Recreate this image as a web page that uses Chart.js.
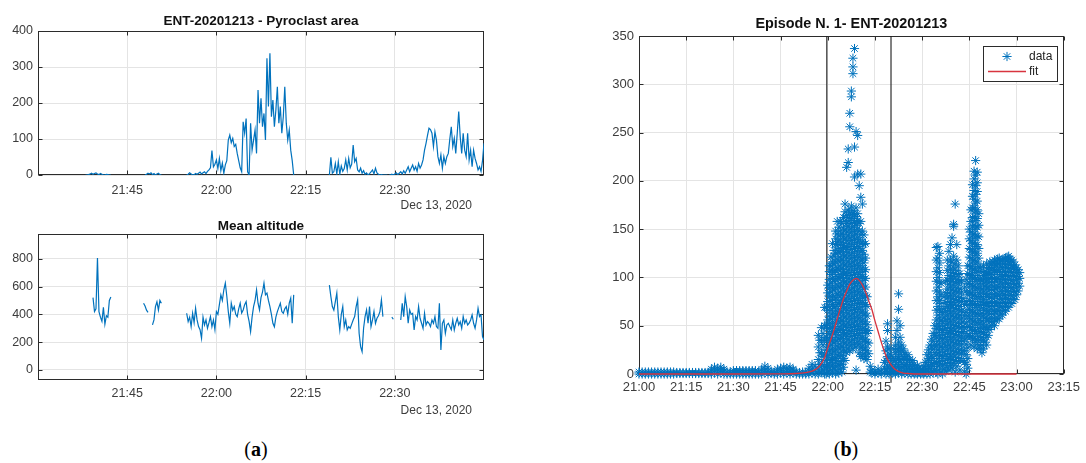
<!DOCTYPE html>
<html>
<head>
<meta charset="utf-8">
<script src="https://cdn.jsdelivr.net/npm/chart.js@4.4.1/dist/chart.umd.min.js"></script>
<style>
  html, body { margin: 0; padding: 0; background: #fff; }
  body { width: 1086px; height: 463px; position: relative; overflow: hidden; }
  .panel { position: absolute; }
  .panel canvas { display: block; }
  .cap { position: absolute; font-family: "Liberation Serif", "Times New Roman", serif; font-size: 20px; line-height: 24px; color: #000; transform: translateX(-50%); white-space: nowrap; }
  .cap b { font-weight: bold; }
</style>
</head>
<body>
<div class="panel" style="left:0;top:0"><canvas id="areaChart" width="500" height="212"></canvas></div>
<div class="panel" style="left:0;top:212px"><canvas id="altitudeChart" width="500" height="213"></canvas></div>
<div class="panel" style="left:580px;top:0"><canvas id="episodeChart" width="506" height="420"></canvas></div>
<div class="cap" style="left:256px;top:437px">(<b>a</b>)</div>
<div class="cap" style="left:846px;top:437px">(<b>b</b>)</div>

<script>
// ---------------------------------------------------------------
// (a) ENT-20201213 monitoring, 15-second samples.
// Each run starts at the given minute after 21:30.
// ---------------------------------------------------------------
const SAMPLE_STEP = 0.25;

// Pyroclast area
const areaRunStarts = [8, 18, 25, 49, 59];
const areaRun1 = [0, 0, 1, 3, 5, 2, 4, 6, 3, 1, 4, 2, 0, 0, 2, 1, 0, 0];
const areaRun2 = [0, 2, 5, 3, 6, 1, 4, 0, 3, 5, 1, 0];
const areaRun3 = [
  0, 2, 6, 3, 0, 1, 4, 2,
  5, 8, 3, 6, 9, 4, 10, 14,
  20, 68, 23, 30, 42, 18, 46, 12,
  33, 5, 28, 40, 97, 111, 90, 102,
  79, 85, 60, 40, 20, 9, 148, 116,
  157, 9, 0, 144, 69, 97, 125, 60,
  236, 144, 213, 134, 171, 97, 324, 190,
  338, 162, 208, 134, 180, 245, 144, 190,
  116, 162, 245, 144, 97, 125, 69, 40,
  0
];
const areaRun4 = [
  0, 49, 5, 9, 32, 3, 37, 2,
  25, 10, 18, 42, 14, 46, 20, 30,
  83, 37, 46, 14, 9, 19, 5, 12,
  2, 6, 0, 4, 9, 14, 3, 19,
  6, 2, 0, 1, 0, 0, 0, 0
];
const areaRun5 = [
  0, 0, 2, 0, 3, 6, 1, 5,
  9, 3, 12, 5, 14, 23, 9, 19,
  28, 14, 23, 10, 32, 19, 28, 42,
  69, 88, 110, 130, 126, 116, 79, 120,
  97, 51, 32, 56, 19, 51, 32, 51,
  60, 100, 134, 79, 102, 60, 116, 176,
  106, 60, 116, 69, 51, 116, 42, 69,
  23, 69, 46, 32, 14, 23, 10, 40,
  88
];

// Mean altitude
const altitudeRunStarts = [9.25, 17.75, 25, 49, 59.5, 61];
const altitudeRun1 = [520, 420, 440, 805, 420, 380, 350, 450, 330, 390, 380, 500, 525];
const altitudeRun2 = [480, 460, 430, 415, null, null, 324, 360, 456, 490, 430, 500, 480];
const altitudeRun3 = [
  408, 348, 380, 312, 408, 340, 444, 360,
  312, 290, 228, 380, 324, 360, 300, 340,
  384, 312, 360, 290, 420, 400, 470, 540,
  500, 577, 625, 530, 420, 336, 480, 430,
  456, 400, 384, 440, 480, 410, 432, 470,
  492, 400, 350, 276, 380, 456, 500, 577,
  480, 432, 520, 560, 625, 540, 553, 500,
  456, 400, 336, 310, 380, 420, 450, 480,
  420, 408, 440, 456, 400, 480, 516, 336,
  540
];
const altitudeRun4 = [
  610, 528, 456, 430, 492, 553, 384, 288,
  400, 456, 312, 360, 288, 312, 300, 330,
  360, 384, 456, 504, 264, 168, 132, 300,
  384, 432, 336, 456, 312, 360, 420, 336,
  372, 390, 420, 504, 384
];
const altitudeRun5 = [380, 365];
const altitudeRun6 = [
  360, 480, 384, 528, 456, 336, 432, 400,
  408, 288, 384, 360, 456, 372, 336, 300,
  408, 324, 348, 336, 312, 360, 336, 384,
  312, 300, 480, 144, 336, 360, 264, 324,
  336, 312, 290, 360, 288, 336, 372, 324,
  348, 300, 384, 336, 360, 324, 336, 360,
  396, 336, 300, 360, 444, 384, 396, 240,
  216
];

const panelATicks = [15, 30, 45, 60];            // 21:45 ... 22:30
const areaTicks = [0, 100, 200, 300, 400];
const altitudeTicks = [0, 200, 400, 600, 800];

// ---------------------------------------------------------------
// (b) Episode N. 1: detected area per frame, minutes after 21:00
// ---------------------------------------------------------------
const quietMinutes = [
  0, 1, 2, 3, 4, 5, 6, 7, 8, 9, 10, 11, 12, 13, 14, 15, 16, 17, 18, 19,
  20, 21, 22, 23, 24, 25, 26, 27, 28, 29, 30, 31, 32, 33, 34, 35, 36, 37, 38, 39,
  40, 41, 42, 43, 44, 45, 46, 47, 48, 49, 50, 51, 52, 53, 54, 55, 56
];
const quietAreas = [
  [0, 2], [0, 2], [0, 2], [0, 2], [0, 2], [0, 2], [0, 2], [0, 2], [0, 2], [0, 2], [0, 2], [0, 2],
  [0.5, 1.5], [0.5, 1.5], [0.5, 1.5], [0.5, 1.5], [0.5, 1.5], [0.5, 1.5], [0.5, 1.5], [0.5, 1.5],
  [0.5, 1.5], [0.5, 1.5], [0.5, 1.5],
  [0, 3, 5], [1, 4, 7], [0, 3, 6], [1, 4, 7], [0, 3, 5],
  [0, 2], [0, 2],
  [0, 2, 3.5], [0, 2, 3.5], [0, 2, 3.5], [0, 2, 3.5], [0, 2, 3.5], [0, 2, 3.5], [0, 2, 3.5], [0, 2, 3.5],
  [0, 1.5],
  [0, 3, 5], [1, 4, 8], [0, 3, 6], [1, 3],
  [0, 1.5],
  [0, 3, 5], [1, 4, 6], [0, 3, 7], [1, 4, 6], [0, 3, 7], [1, 4, 5], [0, 2],
  [0, 1.5], [0, 2], [0, 1.5],
  [0, 3, 6], [1, 5, 10], [0, 4, 8]
];

const burstMinutes = [
  57, 57.5, 58, 58.5, 59, 59.5, 60, 60.5, 61, 61.5, 62, 62.5, 63, 63.5, 64, 64.5, 65,
  65.5, 66, 66.5, 67, 67.5, 68, 68.5, 69, 69.5, 70, 70.5, 71, 71.5, 72, 72.5, 73, 73.5
];
const burstAreas = [
  [0, 5, 15, 28, 40],
  [2, 10, 22, 35],
  [2, 10, 22, 35, 48],
  [4, 18, 30, 42],
  [0, 8, 20, 35, 50, 69],
  [0, 6, 14, 25, 38, 50, 69],
  [2, 10, 19, 28, 37, 47, 56, 66, 75, 84, 92],
  [0, 7, 15, 24, 33, 42, 52, 60, 70, 80, 89, 98, 106, 112],
  [4, 12, 21, 30, 38, 48, 57, 66, 76, 85, 94, 103, 112, 121],
  [1, 9, 17, 26, 35, 44, 53, 63, 72, 81, 90, 99, 108, 116, 135],
  [5, 14, 23, 32, 41, 49, 59, 68, 77, 87, 96, 105, 114, 122, 128],
  [0, 8, 16, 25, 34, 43, 52, 61, 70, 79, 89, 98, 107, 116, 125, 134, 140, 148],
  [3, 11, 20, 29, 38, 47, 56, 65, 74, 83, 92, 101, 110, 119, 128, 137, 145, 158],
  [1, 9, 18, 27, 36, 45, 54, 63, 72, 81, 90, 99, 108, 117, 126, 134, 143, 152],
  [5, 13, 22, 31, 40, 49, 58, 67, 76, 85, 94, 103, 112, 121, 130, 139, 148, 158],
  [2, 10, 19, 28, 37, 46, 55, 64, 73, 82, 91, 100, 109, 118, 127, 136, 145, 156],
  [7, 16, 25, 34, 43, 52, 61, 70, 79, 88, 97, 106, 115, 124, 133, 142, 151, 162],
  [14, 23, 32, 41, 50, 59, 68, 77, 86, 95, 104, 113, 122, 131, 140, 149, 158, 168, 176],
  [22, 30, 39, 48, 57, 66, 75, 84, 93, 102, 111, 120, 129, 138, 147, 156, 164, 214],
  [27, 36, 45, 54, 63, 72, 81, 90, 99, 108, 117, 126, 135, 144, 153, 162, 170, 219, 233],
  [24, 33, 42, 51, 60, 69, 78, 87, 96, 105, 114, 123, 132, 141, 150, 159, 167, 256, 270],
  [30, 39, 48, 57, 66, 75, 84, 93, 102, 111, 120, 129, 138, 147, 156, 165, 174, 287, 293],
  [26, 35, 44, 53, 62, 71, 80, 89, 98, 107, 116, 125, 134, 143, 152, 161, 169, 311, 318, 327],
  [31, 40, 49, 58, 67, 76, 85, 94, 103, 112, 121, 130, 139, 148, 157, 165, 204, 235, 337],
  [4, 28, 37, 46, 55, 64, 73, 82, 91, 100, 109, 118, 127, 136, 145, 154, 163, 172, 251],
  [33, 42, 51, 60, 69, 78, 87, 96, 105, 114, 123, 132, 141, 150, 159, 166, 207, 247],
  [22, 31, 40, 49, 58, 67, 76, 85, 94, 103, 112, 121, 130, 139, 148, 156, 195],
  [18, 27, 36, 45, 54, 63, 72, 81, 90, 99, 108, 117, 126, 135, 144, 158, 183, 207],
  [20, 29, 38, 47, 56, 65, 74, 83, 92, 101, 110, 119, 128, 137, 148, 176],
  [16, 25, 34, 43, 52, 61, 70, 79, 88, 97, 106, 115, 124, 134, 144],
  [18, 27, 36, 45, 54, 63, 72, 81, 90, 99, 108, 120, 135],
  [15, 24, 33, 42, 51, 60, 70, 80],
  [21, 32, 45],
  [2, 8]
];

const afterMinutes = [
  74, 75, 76, 77, 78, 78.5, 79, 79.5, 80, 80.5, 81, 81.5, 82, 82.5, 83, 83.5, 84, 84.5,
  85, 85.5, 86, 86.5, 87, 87.5, 88, 88.5, 89, 89.5, 90, 90.5, 91, 91.5, 92, 92.5, 93, 93.5, 94
];
const afterAreas = [
  [1, 4], [0, 3], [1, 5], [0, 3], [2, 6, 12],
  [0, 5, 14, 24, 34], [2, 8, 18, 28, 45, 52], [0, 6, 16, 26], [3, 10, 20], [1, 6, 14],
  [2, 8, 16, 26], [0, 6, 14, 22, 30, 38], [3, 10, 18, 26, 45, 55], [1, 8, 16, 24, 33, 67, 83],
  [4, 12, 20, 28, 38, 50], [0, 7, 15, 24, 30], [3, 10, 18, 26], [1, 8, 16, 22],
  [4, 10, 18], [0, 6, 14, 20], [2, 8, 15], [0, 5, 12], [2, 8, 14], [0, 5, 10],
  [1, 6], [0, 4, 9], [2, 6], [0, 4], [1, 5], [0, 3, 8], [2, 6, 12], [0, 5, 12, 20],
  [2, 8, 16, 25], [0, 6, 14, 22, 30], [3, 10, 18, 28, 36], [1, 8, 16, 26, 34, 42],
  [4, 12, 22, 30, 40, 50]
];

const lateMinutes = [
  94.5, 95, 95.5, 96, 96.5, 97, 97.5, 98, 98.5, 99, 99.5, 100, 100.5, 101, 101.5, 102,
  102.5, 103, 103.5, 104, 104.5, 105, 105.5, 106, 106.5, 107, 107.5, 108, 108.5, 109,
  109.5, 110, 110.5, 111, 111.5, 112, 112.5, 113, 113.5, 114, 114.5, 115, 115.5, 116,
  116.5, 117, 117.5, 118, 118.5, 119, 119.5, 120, 120.5, 121
];
const lateAreas = [
  [2, 11, 20, 29, 38, 47, 56, 66, 76, 86, 96, 106, 118, 131],
  [0, 8, 16, 25, 34, 43, 52, 61, 70, 80, 90, 100, 110, 120, 132],
  [4, 13, 22, 31, 40, 49, 58, 67, 76, 85, 95, 105, 115, 125],
  [2, 10, 19, 28, 37, 46, 55, 64, 73, 82, 94],
  [0, 9, 18, 27, 36, 45, 54, 64],
  [5, 14, 23, 32, 41, 50, 59, 68, 80],
  [3, 11, 20, 29, 38, 47, 56, 65, 74, 84, 96],
  [7, 16, 25, 34, 43, 52, 61, 70, 79, 88, 97, 107, 118],
  [4, 12, 21, 30, 39, 48, 57, 66, 75, 84, 93, 102, 112, 127],
  [9, 18, 27, 36, 45, 54, 63, 72, 81, 90, 99, 108, 118, 134],
  [6, 15, 24, 33, 42, 51, 60, 69, 78, 87, 96, 105, 116, 141],
  [11, 20, 29, 38, 47, 56, 65, 74, 83, 92, 101, 110, 122, 153, 155],
  [2, 14, 23, 32, 41, 50, 59, 68, 77, 86, 95, 104, 114, 176],
  [8, 17, 26, 35, 44, 53, 62, 71, 80, 89, 98, 107, 118, 134],
  [13, 22, 31, 40, 49, 58, 67, 76, 85, 94, 103, 112],
  [4, 16, 25, 34, 43, 52, 61, 70, 79, 88, 97, 104],
  [21, 30, 39, 48, 57, 66, 75, 84, 96],
  [14, 24, 34, 44, 54, 64, 78],
  [2, 12, 24, 36, 48, 60, 72, 90],
  [0, 10, 20, 31, 42, 53, 64, 75, 86, 98],
  [6, 16, 27, 38, 49, 60, 71, 82, 93, 104, 112],
  [40, 49, 58, 67, 76, 85, 94, 103, 112, 121, 130, 140, 150],
  [30, 39, 48, 57, 66, 75, 84, 93, 102, 111, 120, 129, 138, 147, 158, 170],
  [36, 45, 54, 63, 72, 81, 90, 99, 108, 117, 126, 135, 144, 153, 162, 172, 184, 196],
  [28, 37, 46, 55, 64, 73, 82, 91, 100, 109, 118, 127, 136, 145, 154, 163, 172, 181, 190, 202, 210],
  [33, 42, 51, 60, 69, 78, 87, 96, 105, 114, 123, 132, 141, 150, 159, 168, 177, 186, 195, 206, 221],
  [26, 35, 44, 53, 62, 71, 80, 89, 98, 107, 116, 125, 134, 143, 152, 161, 170, 179, 189, 198, 209],
  [30, 39, 48, 57, 66, 75, 84, 93, 102, 111, 120, 130, 142, 154, 166],
  [26, 35, 44, 53, 62, 71, 80, 89, 98, 110],
  [22, 30, 38, 47, 55, 63, 72, 80, 88, 97, 106],
  [26, 35, 43, 51, 60, 68, 77, 85, 94, 102, 112],
  [33, 41, 49, 58, 66, 74, 83, 91, 99, 106],
  [30, 38, 46, 55, 63, 71, 80, 88, 96, 105, 114],
  [40, 48, 57, 65, 73, 82, 90, 98, 104, 110],
  [46, 54, 62, 70, 79, 87, 95, 103, 110, 116],
  [50, 58, 67, 75, 83, 92, 100, 108, 114],
  [54, 62, 70, 78, 87, 95, 103, 110, 116],
  [50, 57, 65, 74, 82, 90, 99, 107, 114, 118],
  [55, 63, 71, 80, 88, 96, 105, 112, 117],
  [58, 66, 74, 83, 91, 99, 108, 115, 119],
  [57, 65, 73, 81, 90, 98, 106, 114, 120],
  [62, 70, 78, 86, 95, 103, 111, 117],
  [61, 69, 77, 85, 93, 101, 110, 118],
  [66, 74, 82, 90, 98, 106, 114, 119],
  [65, 73, 81, 89, 97, 105, 113, 120],
  [70, 78, 86, 94, 102, 110, 117, 121],
  [69, 77, 85, 93, 101, 109, 116, 122],
  [74, 82, 90, 98, 106, 113, 119],
  [73, 81, 89, 97, 105, 112, 118],
  [78, 86, 94, 102, 110, 116],
  [77, 85, 93, 101, 108, 113],
  [82, 90, 98, 105, 110],
  [86, 94, 101, 108],
  [91, 99, 105]
];

// Gaussian fit of the episode
const fitMinutes = [0, 30, 45, 50, 53, 55, 56, 57, 58, 59, 60, 61, 62, 63, 64, 65, 66, 67, 68, 69,
  70, 71, 72, 73, 74, 75, 76, 77, 78, 79, 80, 81, 82, 83, 84, 86, 88, 100, 120];
const fitAreas = [0, 0, 0.2, 0.5, 1.5, 3, 4.5, 7, 11, 17, 27, 36, 46, 57, 68, 78, 86, 93, 97, 99,
  97, 92, 85, 76, 67, 55, 44, 33, 23, 15, 10, 6, 3.5, 2, 1, 0.4, 0, 0, 0];

// Episode start / end markers
const episodeBounds = [59.7, 80.1];

const episodeTicks = [0, 15, 30, 45, 60, 75, 90, 105, 120, 135];
const episodeYTicks = [0, 50, 100, 150, 200, 250, 300, 350];

// ---------------------------------------------------------------
// drawing helpers
// ---------------------------------------------------------------
const FONT = '"Liberation Sans", Arial, Helvetica, sans-serif';
const FRAME = '#2b2b2b';
const GRID = '#e4e4e4';
const LABEL = '#3c3c3c';
const BLUE = '#0072BD';
const RED = '#d8343f';

Chart.defaults.font.family = FONT;

function clockLabel(baseMinutes) {
  return function (value) {
    const t = baseMinutes + Math.round(value);
    return Math.floor(t / 60) + ':' + String(t % 60).padStart(2, '0');
  };
}

function runsToPoints(starts, runs) {
  const pts = [];
  runs.forEach((vals, r) => {
    if (r > 0) pts.push({ x: starts[r] - SAMPLE_STEP / 2, y: null });
    vals.forEach((v, i) => pts.push({ x: starts[r] + i * SAMPLE_STEP, y: v }));
  });
  return pts;
}

function columnsToPoints(minutes, columns) {
  const pts = [];
  minutes.forEach((m, i) => columns[i].forEach(v => pts.push({ x: m, y: v })));
  return pts;
}

function strokeStar(ctx, x, y, r) {
  const d = r * Math.SQRT1_2;
  ctx.beginPath();
  ctx.moveTo(x - r, y); ctx.lineTo(x + r, y);
  ctx.moveTo(x, y - r); ctx.lineTo(x, y + r);
  ctx.moveTo(x - d, y - d); ctx.lineTo(x + d, y + d);
  ctx.moveTo(x - d, y + d); ctx.lineTo(x + d, y - d);
  ctx.stroke();
}

// Box around the axes, inward tick marks, title, date stamp and legend
const panelPlugin = {
  id: 'panel',
  beforeDatasetsDraw(chart, args, o) {
    const { ctx, chartArea: a, scales } = chart;
    const L = Math.round(a.left) + 0.5, R = Math.round(a.right) - 0.5;
    const T = Math.round(a.top) + 0.5, B = Math.round(a.bottom) - 0.5;
    const k = o.tickLength || 4;
    ctx.save();
    ctx.strokeStyle = FRAME;
    ctx.lineWidth = 1;
    ctx.beginPath();
    scales.x.ticks.forEach(t => {
      const x = Math.round(scales.x.getPixelForValue(t.value)) + 0.5;
      ctx.moveTo(x, T); ctx.lineTo(x, T + k);
      ctx.moveTo(x, B); ctx.lineTo(x, B - k);
    });
    scales.y.ticks.forEach(t => {
      const y = Math.round(scales.y.getPixelForValue(t.value)) + 0.5;
      ctx.moveTo(L, y); ctx.lineTo(L + k, y);
      ctx.moveTo(R, y); ctx.lineTo(R - k, y);
    });
    ctx.stroke();
    ctx.strokeRect(L, T, R - L, B - T);
    ctx.restore();
  },
  afterDraw(chart, args, o) {
    const { ctx, chartArea: a } = chart;
    ctx.save();
    if (o.title) {
      ctx.font = 'bold ' + o.titleSize + 'px ' + FONT;
      ctx.fillStyle = '#111';
      ctx.textAlign = 'center';
      ctx.textBaseline = 'alphabetic';
      ctx.fillText(o.title, (a.left + a.right) / 2, o.titleBaseline);
    }
    if (o.date) {
      ctx.font = o.dateSize + 'px ' + FONT;
      ctx.fillStyle = LABEL;
      ctx.textAlign = 'right';
      ctx.textBaseline = 'alphabetic';
      ctx.fillText(o.date, o.dateRight, o.dateBaseline);
    }
    if (o.legend) {
      const g = o.legend;
      ctx.fillStyle = '#fff';
      ctx.fillRect(g.x, g.y, g.w, g.h);
      ctx.strokeStyle = FRAME;
      ctx.lineWidth = 1;
      ctx.strokeRect(g.x + 0.5, g.y + 0.5, g.w, g.h);
      ctx.font = g.fontSize + 'px ' + FONT;
      ctx.fillStyle = '#222';
      ctx.textAlign = 'left';
      ctx.textBaseline = 'middle';
      g.items.forEach((item, i) => {
        const ds = chart.data.datasets[item.dataset];
        const cy = g.y + g.firstRow + i * g.rowGap;
        if (item.kind === 'marker') {
          ctx.strokeStyle = ds.pointBorderColor;
          ctx.lineWidth = ds.pointBorderWidth;
          strokeStar(ctx, g.x + g.symbolCenter, cy, ds.pointRadius);
        } else {
          ctx.strokeStyle = ds.borderColor;
          ctx.lineWidth = ds.borderWidth;
          ctx.beginPath();
          ctx.moveTo(g.x + g.symbolCenter - g.lineHalf, cy + 0.5);
          ctx.lineTo(g.x + g.symbolCenter + g.lineHalf, cy + 0.5);
          ctx.stroke();
        }
        ctx.fillText(ds.label, g.x + g.textX, cy + 0.5);
      });
    }
    ctx.restore();
  }
};

function fixedTicks(list) {
  return function (scale) { scale.ticks = list.map(v => ({ value: v })); };
}

function axisX(min, max, ticks, base, fontSize, padding, height) {
  return {
    type: 'linear', min, max,
    afterBuildTicks: fixedTicks(ticks),
    afterFit(scale) { scale.height = height; },
    grid: { color: GRID, lineWidth: 1, drawTicks: false },
    border: { display: false },
    ticks: { padding, color: LABEL, font: { size: fontSize }, maxRotation: 0, autoSkip: false, callback: clockLabel(base) }
  };
}

function axisY(min, max, ticks, fontSize, width) {
  return {
    type: 'linear', min, max,
    afterBuildTicks: fixedTicks(ticks),
    afterFit(scale) { scale.width = width; },
    grid: { color: GRID, lineWidth: 1, drawTicks: false },
    border: { display: false },
    ticks: { padding: 5, color: LABEL, font: { size: fontSize } }
  };
}

const common = { responsive: false, animation: false, events: [] };

// (a) top: pyroclast area
new Chart(document.getElementById('areaChart'), {
  type: 'line',
  data: {
    datasets: [{
      label: 'Pyroclast area',
      data: runsToPoints(areaRunStarts, [areaRun1, areaRun2, areaRun3, areaRun4, areaRun5]),
      borderColor: BLUE, borderWidth: 1.2, pointRadius: 0, tension: 0, spanGaps: false
    }]
  },
  options: Object.assign({}, common, {
    layout: { padding: { left: 0, top: 31, right: 16, bottom: 7 } },
    scales: {
      x: axisX(0, 75, panelATicks, 21 * 60 + 30, 12.5, 8, 30),
      y: axisY(0, 400, areaTicks, 12.5, 38)
    },
    plugins: {
      legend: { display: false }, tooltip: { enabled: false },
      panel: {
        title: 'ENT-20201213 - Pyroclast area', titleSize: 13.5, titleBaseline: 25,
        date: 'Dec 13, 2020', dateSize: 12, dateRight: 472, dateBaseline: 208.5
      }
    }
  }),
  plugins: [panelPlugin]
});

// (a) bottom: mean altitude
new Chart(document.getElementById('altitudeChart'), {
  type: 'line',
  data: {
    datasets: [{
      label: 'Mean altitude',
      data: runsToPoints(altitudeRunStarts, [altitudeRun1, altitudeRun2, altitudeRun3, altitudeRun4, altitudeRun5, altitudeRun6]),
      borderColor: BLUE, borderWidth: 1.2, pointRadius: 0, tension: 0, spanGaps: false
    }]
  },
  options: Object.assign({}, common, {
    layout: { padding: { left: 0, top: 22, right: 16, bottom: 15 } },
    scales: {
      x: axisX(0, 75, panelATicks, 21 * 60 + 30, 12.5, 6, 30),
      y: axisY(-72, 978, altitudeTicks, 12.5, 38)
    },
    plugins: {
      legend: { display: false }, tooltip: { enabled: false },
      panel: {
        title: 'Mean altitude', titleSize: 13.5, titleBaseline: 17.5,
        date: 'Dec 13, 2020', dateSize: 12, dateRight: 472, dateBaseline: 201.5
      }
    }
  }),
  plugins: [panelPlugin]
});

// (b) episode with its Gaussian fit
const episodePoints = []
  .concat(columnsToPoints(quietMinutes, quietAreas))
  .concat(columnsToPoints(burstMinutes, burstAreas))
  .concat(columnsToPoints(afterMinutes, afterAreas))
  .concat(columnsToPoints(lateMinutes, lateAreas));

new Chart(document.getElementById('episodeChart'), {
  type: 'scatter',
  data: {
    datasets: [
      {
        label: 'fit', order: 0, showLine: true, clip: false,
        data: fitMinutes.map((m, i) => ({ x: m, y: fitAreas[i] })),
        borderColor: RED, borderWidth: 1.3, pointRadius: 0, cubicInterpolationMode: 'monotone'
      },
      {
        label: 'data', order: 1, clip: false,
        data: episodePoints,
        pointStyle: 'star', pointRadius: 4.6, pointBorderWidth: 1,
        pointBorderColor: BLUE, pointBackgroundColor: BLUE
      },
      {
        label: 'start', order: 2, showLine: true,
        data: [{ x: episodeBounds[0], y: 0 }, { x: episodeBounds[0], y: 350 }],
        borderColor: '#1b1b1b', borderWidth: 1.1, pointRadius: 0
      },
      {
        label: 'end', order: 2, showLine: true, clip: false,
        data: [{ x: episodeBounds[1], y: -9 }, { x: episodeBounds[1], y: 350 }],
        borderColor: '#1b1b1b', borderWidth: 1.1, pointRadius: 0
      }
    ]
  },
  options: Object.assign({}, common, {
    layout: { padding: { left: 0, top: 36, right: 19, bottom: 16 } },
    scales: {
      x: axisX(0, 135, episodeTicks, 21 * 60, 13, 6, 30),
      y: axisY(0, 350, episodeYTicks, 13, 59)
    },
    plugins: {
      legend: { display: false }, tooltip: { enabled: false },
      panel: {
        title: 'Episode N. 1- ENT-20201213', titleSize: 14.4, titleBaseline: 27.6,
        legend: {
          x: 403, y: 46, w: 74, h: 35, fontSize: 12,
          firstRow: 10.5, rowGap: 14.5, symbolCenter: 24, lineHalf: 19, textX: 46,
          items: [{ dataset: 1, kind: 'marker' }, { dataset: 0, kind: 'line' }]
        }
      }
    }
  }),
  plugins: [panelPlugin]
});
</script>
</body>
</html>
